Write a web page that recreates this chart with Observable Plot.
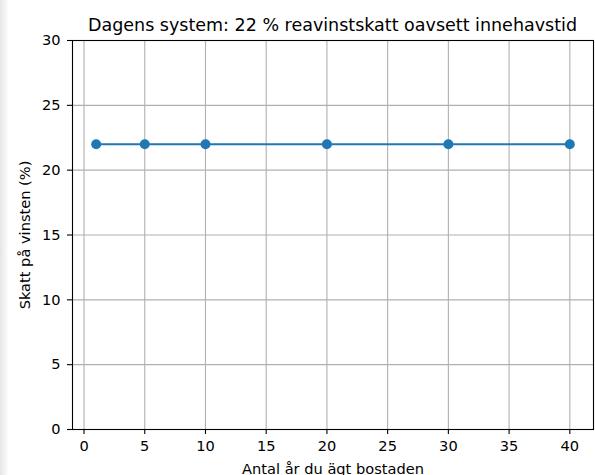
<!DOCTYPE html>
<html>
<head>
<meta charset="utf-8">
<script src="https://cdn.jsdelivr.net/npm/d3@7"></script>
<script src="https://cdn.jsdelivr.net/npm/@observablehq/plot@0.6"></script>
<style>
  html, body { margin: 0; padding: 0; background: white; }
  body { width: 595px; height: 475px; overflow: hidden; position: relative; font-family: "DejaVu Sans", sans-serif; }
  #shade { position: absolute; left: 0; top: 0; width: 9px; height: 475px;
           background: linear-gradient(to right, #e6e6e6, #ffffff); }
  #title { box-sizing: border-box; height: 34px; padding-top: 17px; padding-left: 72px; width: 593px;
           text-align: center; font-size: 17.5px; line-height: 17.5px; color: black; white-space: nowrap; }
  #chart { position: relative; }
</style>
</head>
<body>
<div id="shade"></div>
<div id="title"></div>
<div id="chart"></div>
<script>
const titleText = "Dagens system: 22 % reavinstskatt oavsett innehavstid";
const xLabel = "Antal år du ägt bostaden";
const yLabel = "Skatt på vinsten (%)";
const years = [1, 5, 10, 20, 30, 40];
const taxRates = [22, 22, 22, 22, 22, 22];
const xTicks = [0, 5, 10, 15, 20, 25, 30, 35, 40];
const yTicks = [0, 5, 10, 15, 20, 25, 30];

document.getElementById("title").textContent = titleText;

const data = years.map((y, i) => ({year: y, tax: taxRates[i]}));

const blue = "#1f77b4";
const chart = Plot.plot({
  width: 595,
  height: 441,
  marginTop: 6,
  marginBottom: 46,
  marginLeft: 72,
  marginRight: 2,
  style: {fontFamily: "DejaVu Sans", fontSize: "14.6px", color: "black", background: "transparent", overflow: "visible"},
  x: {domain: [-0.95, 41.95]},
  y: {domain: [0, 30]},
  marks: [
    Plot.gridX(xTicks, {stroke: "#b0b0b0", strokeOpacity: 1, strokeWidth: 1.1}),
    Plot.gridY(yTicks, {stroke: "#b0b0b0", strokeOpacity: 1, strokeWidth: 1.1}),
    Plot.axisX(xTicks, {tickSize: 5, tickPadding: 6, strokeWidth: 1.1, label: xLabel, labelAnchor: "center", labelArrow: "none", labelOffset: 44, tickFormat: d => String(d)}),
    Plot.axisY(yTicks, {tickSize: 5, tickPadding: 7, strokeWidth: 1.1, label: yLabel, labelAnchor: "center", labelArrow: "none", labelOffset: 53, tickFormat: d => String(d)}),
    Plot.line(data, {x: "year", y: "tax", stroke: blue, strokeWidth: 2}),
    Plot.dot(data, {x: "year", y: "tax", fill: blue, r: 5}),
    Plot.frame({stroke: "black", strokeWidth: 1.1})
  ]
});
document.getElementById("chart").appendChild(chart);
</script>
</body>
</html>
